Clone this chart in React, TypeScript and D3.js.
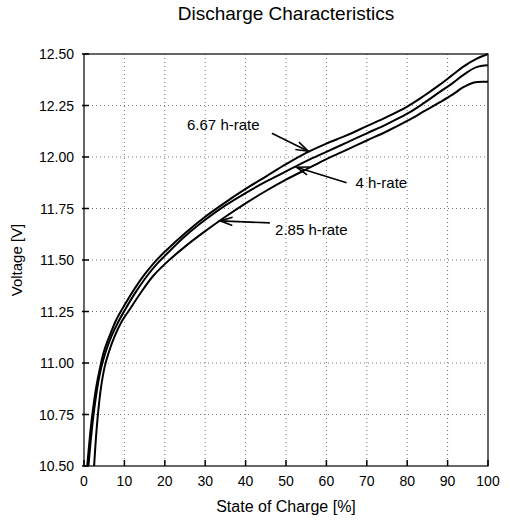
import React from "react";
import * as d3 from "d3";

const title = "Discharge Characteristics";
const xLabel = "State of Charge [%]";
const yLabel = "Voltage [V]";
const xTicks = [0, 10, 20, 30, 40, 50, 60, 70, 80, 90, 100];
const yTicks = [10.5, 10.75, 11.0, 11.25, 11.5, 11.75, 12.0, 12.25, 12.5];

const socTop = [0.8, 1.4, 2, 3, 4, 5, 6.5, 8, 10, 12.5, 15, 17.5, 20, 25, 30, 35, 40, 45, 50, 55, 60, 65, 70, 75, 80, 84, 88, 91, 94, 97, 100];
const vTop = [10.5, 10.63, 10.74, 10.88, 10.98, 11.06, 11.14, 11.21, 11.28, 11.36, 11.43, 11.49, 11.54, 11.63, 11.71, 11.78, 11.845, 11.905, 11.965, 12.02, 12.065, 12.105, 12.15, 12.195, 12.245, 12.295, 12.35, 12.395, 12.44, 12.475, 12.5];

const socMid = [1.1, 1.7, 2.3, 3.3, 4.3, 5.3, 6.8, 8.5, 10.5, 13, 15.5, 18, 20, 25, 30, 35, 40, 45, 50, 55, 60, 65, 70, 75, 80, 84, 88, 91, 94, 97, 100];
const vMid = [10.5, 10.63, 10.74, 10.88, 10.98, 11.05, 11.13, 11.2, 11.27, 11.35, 11.42, 11.48, 11.52, 11.615, 11.695, 11.765, 11.825, 11.88, 11.93, 11.98, 12.025, 12.07, 12.115, 12.16, 12.21, 12.26, 12.315, 12.355, 12.4, 12.435, 12.445];

const socBot = [2.5, 2.9, 3.4, 4.2, 5.1, 6.1, 7.6, 9.3, 11.3, 14, 17, 20, 25, 30, 35, 40, 45, 50, 55, 60, 65, 70, 75, 80, 84, 88, 91, 94, 96.5, 100];
const vBot = [10.5, 10.62, 10.74, 10.88, 10.98, 11.05, 11.13, 11.2, 11.26, 11.34, 11.42, 11.48, 11.565, 11.64, 11.71, 11.775, 11.835, 11.89, 11.94, 11.99, 12.035, 12.08, 12.125, 12.175, 12.22, 12.265, 12.3, 12.34, 12.362, 12.365];

const labels = ["6.67 h-rate", "4 h-rate", "2.85 h-rate"];
// annotation anchors in data units: [text soc, text V, arrow start soc, start V, tip soc, tip V]
const labelPos = [
  [25.5, 12.13, 46.5, 12.115, 55.5, 12.028],
  [67.2, 11.85, 65, 11.875, 52.6, 11.95],
  [47.3, 11.62, 46, 11.68, 33.7, 11.69],
];

const W = 511, H = 524;
const L = 84, T = 54, R = 488, B = 466;
const font = "'Liberation Sans', Arial, Helvetica, sans-serif";

export default function App() {
  const x = d3.scaleLinear().domain([0, 100]).range([L, R]);
  const y = d3.scaleLinear().domain([10.5, 12.5]).range([B, T]);
  const line = d3.line<[number, number]>().x(d => x(d[0])).y(d => y(d[1])).curve(d3.curveCatmullRom.alpha(0.5));
  const series = [
    d3.zip(socTop, vTop) as [number, number][],
    d3.zip(socMid, vMid) as [number, number][],
    d3.zip(socBot, vBot) as [number, number][],
  ];

  const arrow = (x1: number, y1: number, x2: number, y2: number, key: string) => {
    const ang = Math.atan2(y1 - y2, x1 - x2);
    const len = 13, spread = 0.32;
    const a1 = [x2 + len * Math.cos(ang + spread), y2 + len * Math.sin(ang + spread)];
    const a2 = [x2 + len * Math.cos(ang - spread), y2 + len * Math.sin(ang - spread)];
    return (
      <g key={key} stroke="#000" strokeWidth={1.6} fill="none">
        <line x1={x1} y1={y1} x2={x2} y2={y2} />
        <polyline points={`${a1[0]},${a1[1]} ${x2},${y2} ${a2[0]},${a2[1]}`} />
      </g>
    );
  };

  return (
    <svg width={W} height={H} style={{ display: "block", position: "absolute", left: 0, top: 0 }} fontFamily={font}>
      <rect x={0} y={0} width={W} height={H} fill="#fff" />
      <text x={(L + R) / 2} y={20} textAnchor="middle" fontSize={19}>{title}</text>
      {/* grid */}
      <g stroke="#777" strokeWidth={1} strokeDasharray="1,3">
        {xTicks.slice(1, -1).map(t => <line key={"gx" + t} x1={x(t)} x2={x(t)} y1={T} y2={B} />)}
        {yTicks.slice(1, -1).map(t => <line key={"gy" + t} x1={L} x2={R} y1={y(t)} y2={y(t)} />)}
      </g>
      {/* frame */}
      <rect x={L} y={T} width={R - L} height={B - T} fill="none" stroke="#000" strokeWidth={1.2} />
      {/* ticks */}
      <g stroke="#000" strokeWidth={1.5}>
        {xTicks.map(t => <line key={"tx" + t} x1={x(t)} x2={x(t)} y1={B} y2={B - 6} />)}
        {yTicks.map(t => <line key={"ty" + t} x1={L - 2} x2={L + 5} y1={y(t)} y2={y(t)} />)}
      </g>
      <g fontSize={14} fill="#000">
        {xTicks.map(t => <text key={"lx" + t} x={x(t)} y={B + 20} textAnchor="middle">{t}</text>)}
        {yTicks.map(t => <text key={"ly" + t} x={L - 10} y={y(t) + 5} textAnchor="end">{t.toFixed(2)}</text>)}
      </g>
      <text x={(L + R) / 2} y={B + 46} textAnchor="middle" fontSize={16}>{xLabel}</text>
      <text transform={`translate(22,${(T + B) / 2}) rotate(-90)`} textAnchor="middle" fontSize={15}>{yLabel}</text>
      {/* curves */}
      <g fill="none" stroke="#000" strokeWidth={2}>
        {series.map((s, i) => <path key={"s" + i} d={line(s) || ""} />)}
      </g>
      {/* annotations */}
      {labels.map((lab, i) => {
        const p = labelPos[i];
        return (
          <g key={"a" + i}>
            <text x={x(p[0])} y={y(p[1])} fontSize={15}>{lab}</text>
            {arrow(x(p[2]), y(p[3]), x(p[4]), y(p[5]), "ar" + i)}
          </g>
        );
      })}
    </svg>
  );
}
